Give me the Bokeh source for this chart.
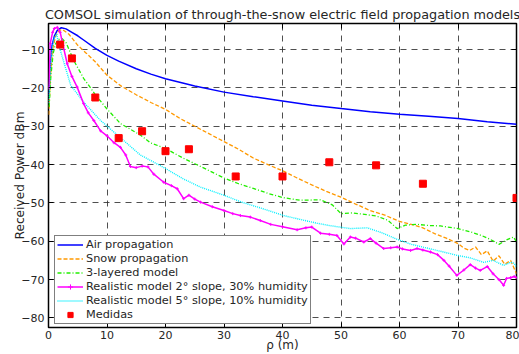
from bokeh.plotting import figure
from bokeh.models import Range1d, LinearAxis, FixedTicker, Legend, LegendItem
from bokeh.embed import file_html
from bokeh.resources import INLINE

FONT = "DejaVu Sans"
TXT = "#262626"

# ---------------- data ----------------
air_x = [0.1, 0.3, 0.6, 1.0, 1.5, 2.2, 3.0, 4.0, 5.0, 6.0, 8.0, 10, 12, 15, 17.5, 20, 25, 30, 35, 40,
         45, 50, 55, 60, 65, 70, 75, 80]
air_y = [-22, -14, -9, -6.5, -5, -4.3, -4.6, -5.5, -6.4, -7.5, -9.7, -11.5, -13, -15, -16.4, -17.6, -19.5,
         -21.1, -22.3, -23.4, -24.5, -25.4, -26.2, -26.9, -27.4, -28, -28.8, -29.5]

snow_x = [0.05, 0.3, 0.7, 1.2, 1.8, 2.4, 3.5, 5, 6.5, 8, 10, 12.5, 15, 17.5, 20, 22.5, 25, 27.5, 30, 32.5,
          35, 37.5, 40, 42.5, 45, 47.5, 50, 52.5, 55, 57.5, 60, 62, 64, 66, 68, 70, 71, 72, 73, 74, 75, 76,
          77, 78, 79, 80]
snow_y = [-27, -18, -10, -6.5, -5, -4.8, -6, -8.9, -11, -13.2, -16.7, -19.6, -21.8, -23.8, -25.6, -28, -30,
          -32, -34, -36, -38.3, -40, -41.6, -43.5, -45.3, -47, -48.5, -50.3, -52, -53.2, -54.8, -55.6, -56.5,
          -58, -59.2, -60.6, -61.8, -62.4, -61.5, -63.5, -62.5, -65.2, -63.8, -66, -65, -68.5]

lay_x = [0.1, 0.4, 0.8, 1.2, 1.7, 2.3, 3.0, 4.3, 6.0, 7.2, 8.0, 10, 12.3, 15.7, 17.4, 20, 23, 26, 30, 32.5,
         35, 37.5, 40, 43, 46.5, 48.5, 50, 52, 54, 56, 58, 59.6, 61, 63, 65, 67, 70, 72, 74, 75.5, 77, 78.5,
         79.5, 80]
lay_y = [-25, -17, -11, -8.5, -7.4, -7.1, -8.2, -12.8, -17.5, -20, -21.8, -25.5, -29.3, -32.3, -34.3, -35.8,
         -38.3, -40.5, -43.5, -45, -46.2, -47.5, -48.6, -49.3, -49.2, -50.5, -52.8, -52.6, -53, -53.4, -54.5,
         -56.7, -55.8, -55.6, -55.9, -56, -56.7, -57.5, -58.5, -59.5, -60.8, -59.5, -58.9, -60.2]

r2_x = [0.05, 0.3, 0.7, 1.0, 1.5, 2.0, 2.5, 3.2, 4.0, 4.9, 6.0, 6.8, 7.75, 8.9, 10, 11.2, 12.3, 13.2, 14, 15,
        16, 17, 18, 19.7, 21, 22, 23.1, 24, 25, 26, 28, 30, 31.5, 32.8, 34.5, 36.2, 38, 40, 42.5, 44, 45,
        46.5, 48, 49.3, 50.5, 51.6, 52.5, 53.9, 55, 56, 57.3, 58.5, 59.6, 60.5, 61.9, 63, 64, 65.3, 66.5,
        67.6, 68.5, 69.8, 71, 72.1, 73, 73.8, 75, 76, 77, 77.8, 78.3, 79, 79.6, 80]
r2_y = [-20, -8.4, -5.5, -4.5, -4.2, -5.5, -9, -13.7, -17, -19.8, -24.1, -26.5, -28.5, -31.2, -32.5, -34.3,
        -35.5, -37.5, -40.5, -40.8, -40.4, -40.6, -42.5, -44.6, -45.5, -46.3, -48.9, -48, -49, -49.8, -51,
        -52, -52.8, -53.3, -53.7, -54.6, -55.6, -56.2, -57, -56.5, -56.3, -57.9, -58.2, -58.5, -60.7, -58.9,
        -59.2, -60.2, -59.3, -60.5, -61.9, -61.7, -61.5, -62, -62.4, -61.9, -62.3, -62.8, -63.5, -65, -66.5,
        -68.9, -67.5, -66.1, -67, -67.6, -66.6, -68.5, -70, -71.5, -69.7, -69.5, -69.2, -69.5]

r5_x = [0.05, 0.3, 0.7, 1.0, 1.4, 1.8, 2.7, 3.8, 6.0, 8.9, 12.3, 15.7, 20, 23, 26, 30, 33, 36.2, 40.2, 43,
        45.9, 48, 51.6, 54.5, 57, 59.6, 62, 65.3, 67.5, 69.9, 72, 74.4, 76, 77.8, 79, 79.6, 80]
r5_y = [-24, -15, -9, -7, -6, -9, -13.7, -19.3, -23.7, -28.5, -33, -37.5, -41, -43.7, -45.9, -48, -49.8,
        -51.3, -53.3, -54.3, -55.3, -55.9, -56.7, -56.5, -57.8, -59.5, -60.8, -62, -62.8, -63.7, -64.3,
        -65.5, -65, -66.3, -65.5, -65.7, -66.8]

med_x = [2, 4, 8, 12, 16, 20, 24, 32, 40, 48, 56, 64, 80]
med_y = [-8.7, -12.3, -22.5, -33.1, -31.3, -36.5, -36.0, -43.1, -43.1, -39.4, -40.2, -45.0, -48.7]

x_ticks = [0, 10, 20, 30, 40, 50, 60, 70, 80]
y_ticks = [-80, -70, -60, -50, -40, -30, -20, -10]

title_text = "COMSOL simulation of through-the-snow electric field propagation models"
x_label = "\u03c1 (m)"
y_label = "Received Power dBm"
labels = ["Air propagation", "Snow propagation", "3-layered model",
          "Realistic model 2\u00b0 slope, 30% humidity",
          "Realistic model 5\u00b0 slope, 10% humidity", "Medidas"]

# ---------------- figure ----------------
p = figure(width=519, height=354, output_backend="svg", toolbar_location=None,
           x_range=Range1d(0, 80), y_range=Range1d(-82.5, -3.2),
           min_border_left=48, min_border_right=3, min_border_top=23, min_border_bottom=27)
p.background_fill_color = "white"
p.border_fill_color = "white"
p.outline_line_color = "black"
p.outline_line_width = 1.5

p.title.text = title_text
p.title.align = "center"
p.title.offset = -9
p.title.text_font = FONT
p.title.text_font_size = "12.8px"
p.title.text_font_style = "normal"
p.title.text_color = TXT
p.title.standoff = 3

for ax in p.xaxis + p.yaxis:
    ax.major_label_text_font = FONT
    ax.major_label_text_font_size = "11px"
    ax.major_label_text_color = TXT
    ax.axis_label_text_font = FONT
    ax.axis_label_text_font_style = "normal"
    ax.axis_label_text_color = TXT
    ax.major_tick_in = 5
    ax.major_tick_out = 0
    ax.minor_tick_in = 0
    ax.minor_tick_out = 0
    ax.axis_line_color = None
    ax.major_tick_line_color = "black"

p.xaxis.ticker = FixedTicker(ticks=x_ticks)
p.yaxis.ticker = FixedTicker(ticks=y_ticks)
p.xaxis.axis_label = x_label
p.yaxis.axis_label = y_label
p.xaxis.axis_label_text_font_size = "12px"
p.yaxis.axis_label_text_font_size = "12.2px"
p.xaxis.major_label_standoff = 3
p.xaxis.axis_label_standoff = -4
p.yaxis.major_label_standoff = 4
p.yaxis.axis_label_standoff = -9

# top/right axes for inward ticks
top = LinearAxis(ticker=FixedTicker(ticks=x_ticks), major_label_text_font_size="0px",
                 major_tick_in=5, major_tick_out=0, minor_tick_in=0, minor_tick_out=0,
                 axis_line_color=None, major_label_standoff=0)
right = LinearAxis(ticker=FixedTicker(ticks=y_ticks), major_label_text_font_size="0px",
                   major_tick_in=5, major_tick_out=0, minor_tick_in=0, minor_tick_out=0,
                   axis_line_color=None, major_label_standoff=0)
top.major_label_text_color = None
right.major_label_text_color = None
p.add_layout(top, "above")
p.add_layout(right, "right")

for g in p.xgrid + p.ygrid:
    g.ticker = FixedTicker(ticks=x_ticks if g.dimension == 0 else y_ticks)
    g.grid_line_color = "#303030"
    g.grid_line_alpha = 0.85
    g.grid_line_dash = "6 5"
    g.grid_line_width = 1

r_air = p.line(air_x, air_y, line_color="#0000ff", line_width=1.5)
r_snow = p.line(snow_x, snow_y, line_color="#ff9900", line_width=1.3, line_dash="4 2")
r_lay = p.line(lay_x, lay_y, line_color="#22ee00", line_width=1.3, line_dash="4 2 1 2")
r_r5 = p.line(r5_x, r5_y, line_color="#00f0ff", line_width=1.4, line_dash="1 1")
r_r2 = p.line(r2_x, r2_y, line_color="#ff00ff", line_width=1.5)
r_r2m = p.scatter(r2_x, r2_y, marker="cross", size=3, line_color="#ff00ff", line_width=1)
r_med = p.scatter(med_x, med_y, marker="square", size=7, fill_color="#ff0000", line_color="#ff0000")

legend = Legend(items=[
    LegendItem(label=labels[0], renderers=[r_air]),
    LegendItem(label=labels[1], renderers=[r_snow]),
    LegendItem(label=labels[2], renderers=[r_lay]),
    LegendItem(label=labels[3], renderers=[r_r2, r_r2m]),
    LegendItem(label=labels[4], renderers=[r_r5]),
    LegendItem(label=labels[5], renderers=[r_med]),
], location=(6, 3))
legend.label_text_font = FONT
legend.label_text_font_size = "11.3px"
legend.label_text_color = TXT
legend.glyph_width = 26
legend.glyph_height = 13
legend.label_height = 13
legend.spacing = 1
legend.padding = 2
legend.margin = 0
legend.label_standoff = 3
legend.border_line_color = "black"
legend.border_line_width = 1
legend.background_fill_color = "white"
legend.background_fill_alpha = 1
p.add_layout(legend, "center")

with open("out.html", "w") as f:
    f.write(file_html(p, INLINE))
